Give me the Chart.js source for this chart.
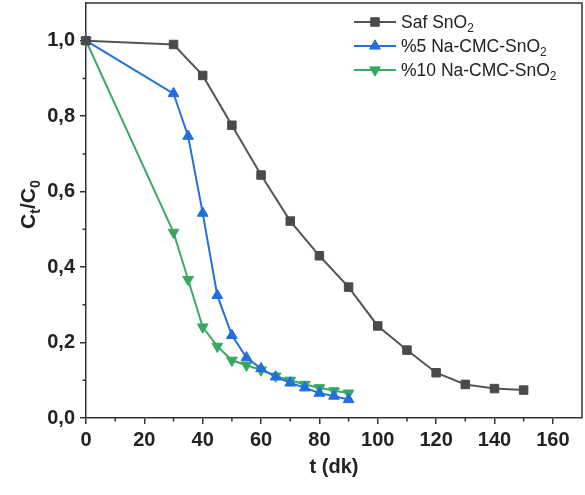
<!DOCTYPE html>
<html>
<head>
<meta charset="utf-8">
<script src="https://cdn.jsdelivr.net/npm/chart.js@4/dist/chart.umd.min.js"></script>
<style>
  html, body { margin: 0; padding: 0; background: #fff; }
</style>
</head>
<body>
<canvas id="chart" width="585" height="495"></canvas>
<script>
// values
const seriesLabels = ['Saf SnO₂', '%5 Na-CMC-SnO₂', '%10 Na-CMC-SnO₂'];
const safTime = [0, 30, 40, 50, 60, 70, 80, 90, 100, 110, 120, 130, 140, 150];
const safValues = [1.0, 0.99, 0.908, 0.776, 0.644, 0.522, 0.43, 0.347, 0.244, 0.18, 0.12, 0.089, 0.078, 0.074];
const cmcTime = [0, 30, 35, 40, 45, 50, 55, 60, 65, 70, 75, 80, 85, 90];
const cmc5Values = [1.0, 0.86, 0.747, 0.543, 0.325, 0.219, 0.16, 0.131, 0.109, 0.093, 0.08, 0.066, 0.058, 0.049];
const cmc10Values = [1.0, 0.492, 0.367, 0.241, 0.19, 0.153, 0.14, 0.127, 0.111, 0.1, 0.089, 0.08, 0.072, 0.066];
const xTitle = 't (dk)';
const yTitle = 'Cₜ/C₀';

const FONT = '"Liberation Sans", Arial, sans-serif';
const AXIS = '#333';
const SUB = { '₀': '0', '₂': '2', 'ₜ': 't' };

const toPoints = (xs, ys) => xs.map((x, i) => ({ x: x, y: ys[i] }));

// draws text where unicode subscript chars become small lowered glyphs
function richWidth(ctx, text, size, weight) {
  let w = 0;
  for (const ch of text) {
    const sub = SUB[ch];
    ctx.font = weight + ' ' + (sub ? size * 0.68 : size) + 'px ' + FONT;
    w += ctx.measureText(sub || ch).width;
  }
  return w;
}
function richText(ctx, text, x, y, size, weight) {
  ctx.textBaseline = 'alphabetic';
  ctx.textAlign = 'left';
  for (const ch of text) {
    const sub = SUB[ch];
    ctx.font = weight + ' ' + (sub ? size * 0.68 : size) + 'px ' + FONT;
    ctx.fillText(sub || ch, x, sub ? y + size * 0.22 : y);
    x += ctx.measureText(sub || ch).width;
  }
}

function marker(ctx, style, rot, r, x, y) {
  ctx.beginPath();
  if (style === 'rect') {
    const s = Math.SQRT1_2 * r;
    ctx.rect(x - s, y - s, 2 * s, 2 * s);
  } else {
    let a = rot * Math.PI / 180;
    for (let k = 0; k < 3; k++) {
      const px = x + Math.sin(a) * r, py = y - Math.cos(a) * r;
      k === 0 ? ctx.moveTo(px, py) : ctx.lineTo(px, py);
      a += 2 * Math.PI / 3;
    }
    ctx.closePath();
  }
  ctx.fill();
  ctx.stroke();
}

const extras = {
  id: 'extras',
  afterDraw(chart) {
    const ctx = chart.ctx;
    const a = chart.chartArea;
    ctx.save();
    // frame on top and right
    ctx.strokeStyle = AXIS;
    ctx.lineWidth = 1.5;
    ctx.beginPath();
    ctx.moveTo(a.left, a.top);
    ctx.lineTo(a.right, a.top);
    ctx.lineTo(a.right, a.bottom);
    ctx.stroke();

    // minor ticks
    const xs = chart.scales.x, ys = chart.scales.y;
    ctx.beginPath();
    for (let v = 10; v < 170; v += 20) {
      const px = xs.getPixelForValue(v);
      ctx.moveTo(px, a.bottom);
      ctx.lineTo(px, a.bottom + 3.5);
    }
    for (let v = 1; v <= 9; v += 2) {
      const py = ys.getPixelForValue(v / 10);
      ctx.moveTo(a.left, py);
      ctx.lineTo(a.left - 3.5, py);
    }
    ctx.stroke();

    // y title
    ctx.fillStyle = '#222';
    const size = 21;
    const w = richWidth(ctx, yTitle, size, 'bold');
    ctx.translate(28, (a.top + a.bottom) / 2 - 6);
    ctx.rotate(-Math.PI / 2);
    richText(ctx, yTitle, -w / 2, 7, size, 'bold');
    ctx.restore();

    // legend: line + marker + label
    ctx.save();
    chart.data.datasets.forEach((ds, i) => {
      const y = 22 + i * 24;
      ctx.strokeStyle = ds.borderColor;
      ctx.lineWidth = 2;
      ctx.beginPath();
      ctx.moveTo(354, y);
      ctx.lineTo(396, y);
      ctx.stroke();
      ctx.fillStyle = ds.pointBackgroundColor;
      ctx.strokeStyle = ds.pointBorderColor;
      ctx.lineWidth = 1;
      marker(ctx, ds.pointStyle, ds.pointRotation || 0, ds.pointRadius, 375, y);
      ctx.fillStyle = '#222';
      richText(ctx, ds.label, 401, y + 6, 17.5, 'normal');
    });
    ctx.restore();
  }
};

function series(label, data, line, fill, style, rot) {
  return {
    label: label,
    data: data,
    borderColor: line,
    borderWidth: 2,
    backgroundColor: fill,
    pointBackgroundColor: fill,
    pointBorderColor: fill,
    pointBorderWidth: 1,
    pointStyle: style,
    pointRotation: rot,
    pointRadius: style === 'rect' ? 6 : 6.2,
    tension: 0,
    clip: false
  };
}

const ctx = document.getElementById('chart').getContext('2d');
new Chart(ctx, {
  type: 'line',
  data: {
    datasets: [
      series(seriesLabels[0], toPoints(safTime, safValues), '#555555', '#4a4a4a', 'rect', 0),
      series(seriesLabels[1], toPoints(cmcTime, cmc5Values), '#2370dc', '#1f6fe0', 'triangle', 0),
      series(seriesLabels[2], toPoints(cmcTime, cmc10Values), '#3caa66', '#36a862', 'triangle', 180)
    ]
  },
  options: {
    responsive: false,
    animation: false,
    layout: { autoPadding: false, padding: { left: 0, top: 3, right: 3, bottom: 0 } },
    plugins: { legend: { display: false }, tooltip: { enabled: false } },
    scales: {
      x: {
        type: 'linear',
        min: 0,
        max: 170,
        afterFit: s => { s.height = 77; s.paddingLeft = 0; s.paddingRight = 0; },
        afterBuildTicks: s => { s.ticks = [0, 20, 40, 60, 80, 100, 120, 140, 160].map(v => ({ value: v })); },
        border: { display: true, color: AXIS, width: 1.5 },
        grid: { drawOnChartArea: false, drawTicks: true, tickLength: 6, color: AXIS, lineWidth: 1.5 },
        ticks: { color: '#222', padding: 4, maxRotation: 0, font: { family: FONT, size: 20, weight: 'bold' } },
        title: { display: true, text: xTitle, color: '#222', padding: { top: 0, bottom: 16 }, font: { family: FONT, size: 20, weight: 'bold' } }
      },
      y: {
        min: 0,
        max: 1.1,
        afterFit: s => { s.width = 86; s.paddingTop = 0; s.paddingBottom = 0; },
        afterBuildTicks: s => { s.ticks = [0, 0.2, 0.4, 0.6, 0.8, 1.0].map(v => ({ value: v })); },
        border: { display: true, color: AXIS, width: 1.5 },
        grid: { drawOnChartArea: false, drawTicks: true, tickLength: 6, color: AXIS, lineWidth: 1.5 },
        ticks: {
          color: '#222',
          padding: 5,
          font: { family: FONT, size: 20, weight: 'bold' },
          callback: v => v.toFixed(1).replace('.', ',')
        }
      }
    }
  },
  plugins: [extras]
});
</script>
</body>
</html>
